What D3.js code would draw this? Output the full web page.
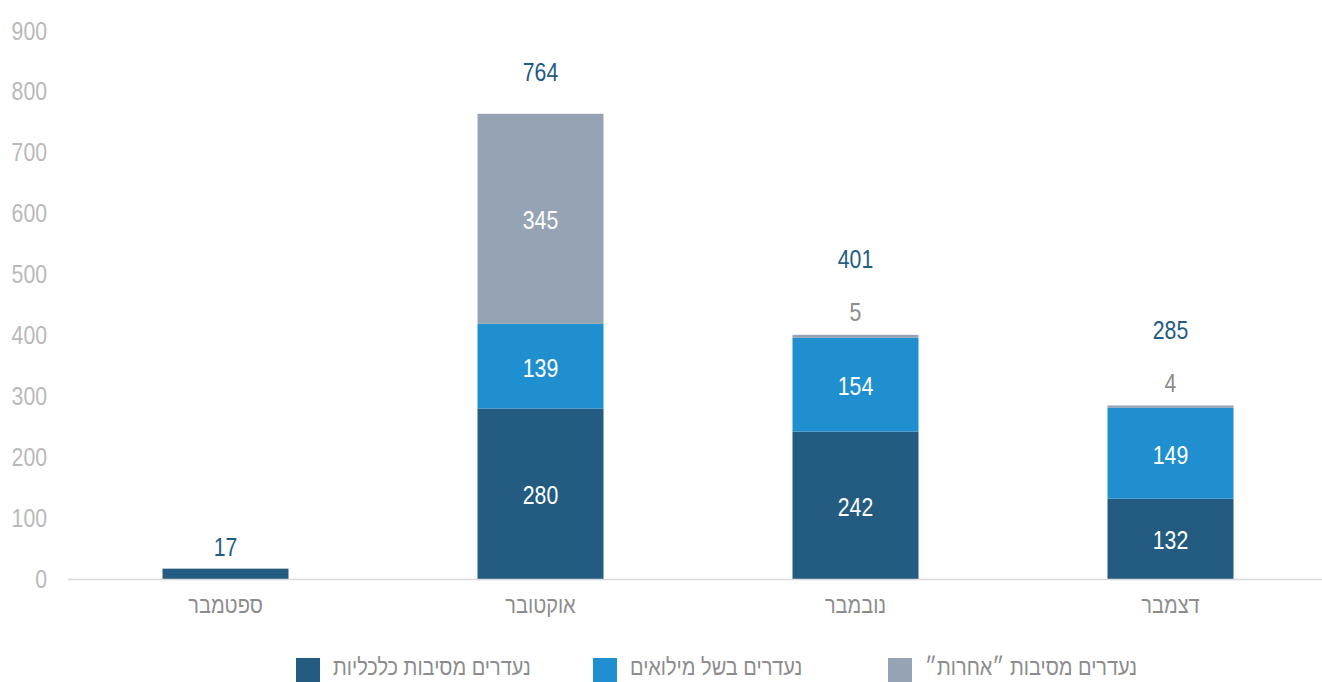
<!DOCTYPE html>
<html>
<head>
<meta charset="utf-8">
<script src="https://cdn.jsdelivr.net/npm/d3@7"></script>
<style>
  body { margin: 0; background: #fff; }
  svg { display: block; font-family: "Liberation Sans", Arial, sans-serif; }
</style>
</head>
<body>
<svg></svg>
<script>
let months = ["ספטמבר", "אוקטובר", "נובמבר", "דצמבר"];
let economic = [17, 280, 242, 132];
let reserve = [0, 139, 154, 149];
let others = [0, 345, 5, 4];
let seriesNames = ["נעדרים מסיבות כלכליות", "נעדרים בשל מילואים", "נעדרים מסיבות ״אחרות״"];
let yTicks = [0, 100, 200, 300, 400, 500, 600, 700, 800, 900];

let width = 1322;
let height = 682;
let colors = ["#235b81", "#1f8fd0", "#96a3b5"];
let squeeze = "scale(0.85,1)"; // narrow the font like the condensed face of the original
let fontSize = "25px";
let legendSize = "23.5px";

let svg = d3.select("svg").attr("width", width).attr("height", height);

let rows = months.map((m, i) => ({ month: m, economic: economic[i], reserve: reserve[i], others: others[i] }));
let keys = ["economic", "reserve", "others"];
let stacked = d3.stack().keys(keys)(rows);

let xScale = d3.scaleBand()
               .domain(months)
               .range([68, 1328])
               .paddingInner(0.6)
               .paddingOuter(0.3);

let yScale = d3.scaleLinear()
               .domain([0, 900])
               .range([579, 31]);

let addText = (parent, x, y, str, color, anchor, size) => {
    parent.append("g")
          .attr("transform", "translate(" + x + "," + y + ") " + squeeze)
          .append("text")
          .attr("text-anchor", anchor || "middle")
          .attr("dominant-baseline", "central")
          .attr("fill", color)
          .style("font-size", size || fontSize)
          .text(str)
}

// y axis labels
let yAxis = svg.append("g")
               .attr("transform", "translate(47,0)")
               .call(d3.axisLeft(yScale).tickValues(yTicks).tickSize(0).tickPadding(0))
yAxis.select(".domain").remove()
yAxis.selectAll("text")
     .attr("fill", "#b9b9b9")
     .attr("transform", squeeze)
     .style("font-size", fontSize)
     .style("font-family", "inherit")

// bars
stacked.forEach((layer, k) => {
    svg.append("g")
       .selectAll("rect")
       .data(layer)
       .enter()
       .append("rect")
       .attr("x", (d) => xScale(d.data.month))
       .attr("width", xScale.bandwidth())
       .attr("y", (d) => yScale(d[1]))
       .attr("height", (d) => yScale(d[0]) - yScale(d[1]))
       .attr("fill", colors[k])
})

// x axis
let xAxis = svg.append("g")
               .attr("transform", "translate(0,579)")
               .call(d3.axisBottom(xScale).tickSize(0).tickPadding(17))
xAxis.select(".domain").remove()
xAxis.selectAll("text")
     .attr("fill", "#8c8c8c")
     .attr("transform", squeeze)
     .style("font-size", legendSize)
     .style("font-family", "inherit")

svg.append("line")
   .attr("x1", 68).attr("x2", 1322)
   .attr("y1", 579.5).attr("y2", 579.5)
   .attr("stroke", "#d9d9d9")
   .attr("stroke-width", 1.5)

// labels inside / above segments
let cx = (m) => xScale(m) + xScale.bandwidth() / 2;
let labels = svg.append("g")

stacked.forEach((layer, k) => {
    layer.forEach((d) => {
        let v = d[1] - d[0];
        if (v <= 0) return;
        let h = yScale(d[0]) - yScale(d[1]);
        let inside = h > 40;
        if (!inside && keys[k] === "economic") return;
        let y = inside ? (yScale(d[0]) + yScale(d[1])) / 2 + 2 : yScale(d[1]) - 22;
        addText(labels, cx(d.data.month), y, v, inside ? "#ffffff" : "#8c8c8c")
    })
})

// totals
rows.forEach((r) => {
    let total = r.economic + r.reserve + r.others;
    let top = yScale(total);
    let othersH = yScale(0) - yScale(r.others);
    let offset = r.others === 0 ? 21 : (othersH > 40 ? 41 : 75);
    addText(labels, cx(r.month), top - offset, total, "#235b81")
})

// legend
let legendX = [296, 593, 888];
let legend = svg.append("g")
seriesNames.forEach((name, k) => {
    legend.append("rect")
          .attr("x", legendX[k]).attr("y", 658)
          .attr("width", 24).attr("height", 24)
          .attr("fill", colors[k])
    addText(legend, legendX[k] + 37, 667, name, "#8c8c8c", "start", legendSize)
})
</script>
</body>
</html>
